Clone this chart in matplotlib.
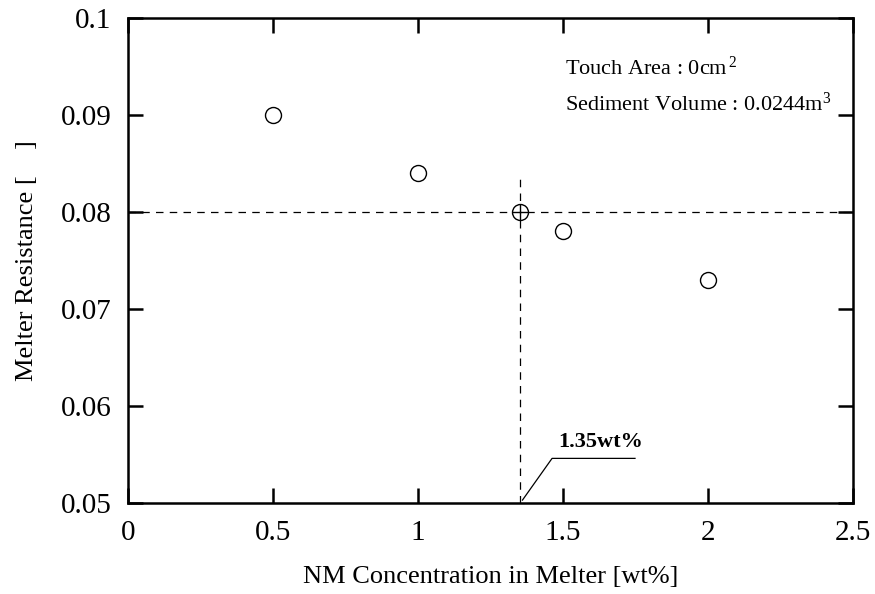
import numpy as np
import matplotlib
matplotlib.use("Agg")
import matplotlib.pyplot as plt

plt.rcParams['font.family'] = ['Liberation Serif', 'DejaVu Serif']
plt.rcParams['mathtext.fontset'] = 'custom'
plt.rcParams['mathtext.rm'] = 'Liberation Serif'
plt.rcParams['mathtext.it'] = 'Liberation Serif:italic'
plt.rcParams['mathtext.bf'] = 'Liberation Serif:bold'

# data
conc = [0.5, 1.0, 1.5, 2.0]
resist = [0.090, 0.084, 0.078, 0.073]
target_conc = 1.35
target_resist = 0.080

x_ticks = [0, 0.5, 1, 1.5, 2, 2.5]
x_tick_labels = ['0', '0.5', '1', '1.5', '2', '2.5']
y_ticks = [0.05, 0.06, 0.07, 0.08, 0.09, 0.1]
y_tick_labels = ['0.05', '0.06', '0.07', '0.08', '0.09', '0.1']

fig = plt.figure(figsize=(8.75, 5.94), dpi=100)
ax = fig.add_axes([0.1463, 0.1532, 0.8287, 0.8165])

# guide lines
ax.plot([0, 2.5], [target_resist, target_resist], ls=(0, (6, 5)), color='black', lw=0.9)
ax.plot([target_conc, target_conc], [0.05, 0.0835], ls=(0, (6, 5)), color='black', lw=0.9)

# measured points
ax.plot(conc, resist, 'o', ms=11.5, mfc='white', mec='black', mew=1.0, ls='none')
# crossed circle at the target
ax.plot([target_conc], [target_resist], 'o', ms=11.5, mfc='white', mec='black', mew=1.0)
ax.plot([target_conc], [target_resist], '+', ms=11.5, color='black', mew=1.0)

# leader line for 1.35wt%
ax.plot([1.36, 1.462, 1.748], [0.0503, 0.0546, 0.0546], color='black', lw=0.9)
ax.text(1.628, 0.0563, '1.35wt%', fontsize=16, fontweight='bold', ha='center', va='center')

ax.text(1.508, 0.0948, 'Touch Area : 0cm$^{\\,2}$', fontsize=16, ha='left', va='center')
ax.text(1.508, 0.0911, 'Sediment Volume : 0.0244m$^3$', fontsize=16, ha='left', va='center')

ax.set_xlim(0, 2.5)
ax.set_ylim(0.05, 0.1)
ax.set_xticks(x_ticks)
ax.set_xticklabels(x_tick_labels)
ax.set_yticks(y_ticks)
ax.set_yticklabels(y_tick_labels)
ax.tick_params(direction='in', length=11, width=1.8, labelsize=21,
               top=True, right=True, pad=12)
for s in ax.spines.values():
    s.set_linewidth(1.8)

ax.set_xlabel('NM Concentration in Melter [wt%]', fontsize=19, labelpad=15)
ax.set_ylabel('Melter Resistance [    ]', fontsize=19, labelpad=16)

fig.savefig('out.png', dpi=100)
